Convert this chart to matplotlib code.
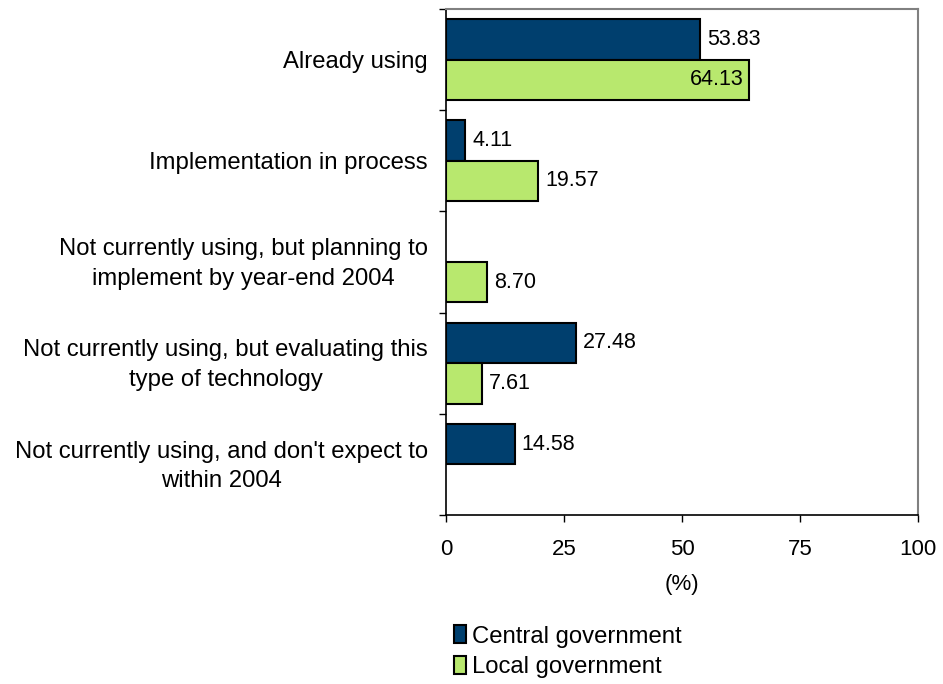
import numpy as np
import matplotlib.pyplot as plt
from matplotlib.patches import Patch

plt.rcParams['font.family'] = ['Liberation Sans', 'DejaVu Sans']

categories = [
    "Already using",
    "Implementation in process",
    "Not currently using, but planning to\nimplement by year-end 2004",
    "Not currently using, but evaluating this\ntype of technology",
    "Not currently using, and don't expect to\nwithin 2004",
]
central = [53.83, 4.11, None, 27.48, 14.58]
local = [64.13, 19.57, 8.70, 7.61, None]
series_names = ["Central government", "Local government"]
colors = ["#003F6E", "#B8E86E"]

fig = plt.figure(figsize=(9.43, 6.84), dpi=100)
ax = fig.add_axes([0.473, 0.247, 0.5005, 0.740])

y = np.arange(len(categories))
h = 0.4
for vals, off, col in [(central, -h / 2, colors[0]), (local, h / 2, colors[1])]:
    for i, v in enumerate(vals):
        if v is None:
            continue
        ax.barh(y[i] + off, v, height=h, color=col, edgecolor="black", linewidth=1.5)
        if v > 60:
            # long bar: put the value just inside the end
            ax.annotate(f"{v:.2f}", (v, y[i] + off), xytext=(-4, 0),
                        textcoords="offset points", ha="right", va="center", fontsize=15.5)
        else:
            ax.annotate(f"{v:.2f}", (v, y[i] + off), xytext=(5, 0),
                        textcoords="offset points", ha="left", va="center", fontsize=15.5)

ax.set_xlim(0, 100)
ax.set_ylim(len(categories) - 0.5, -0.5)
ax.set_xticks([0, 25, 50, 75, 100])
ax.tick_params(axis="x", labelsize=16, length=5, width=1, pad=12)
ax.set_yticks(np.arange(-0.5, len(categories), 1.0))
ax.set_yticklabels([])
ax.tick_params(axis="y", which="major", length=5, width=1)

# category names, right-aligned block with centred lines
tr = ax.get_yaxis_transform()
for i, name in enumerate(categories):
    ax.text(-0.038, y[i] + 0.02, name, transform=tr, ha="right", va="center",
            multialignment="center", fontsize=17.2, linespacing=1.45)

ax.set_xlabel("(%)", fontsize=16, labelpad=10)

for s in ["top", "right"]:
    ax.spines[s].set_color("#808080")
    ax.spines[s].set_linewidth(1.5)
for s in ["left", "bottom"]:
    ax.spines[s].set_linewidth(1.2)

handles = [Patch(facecolor=c, edgecolor="black", linewidth=1.5) for c in colors]
fig.legend(handles, series_names, loc="upper left", bbox_to_anchor=(0.471, 0.1),
           frameon=False, fontsize=17.2, handlelength=0.5, handleheight=0.8,
           handletextpad=0.25, labelspacing=0.35, borderaxespad=0)

fig.savefig("out.png", dpi=100)
